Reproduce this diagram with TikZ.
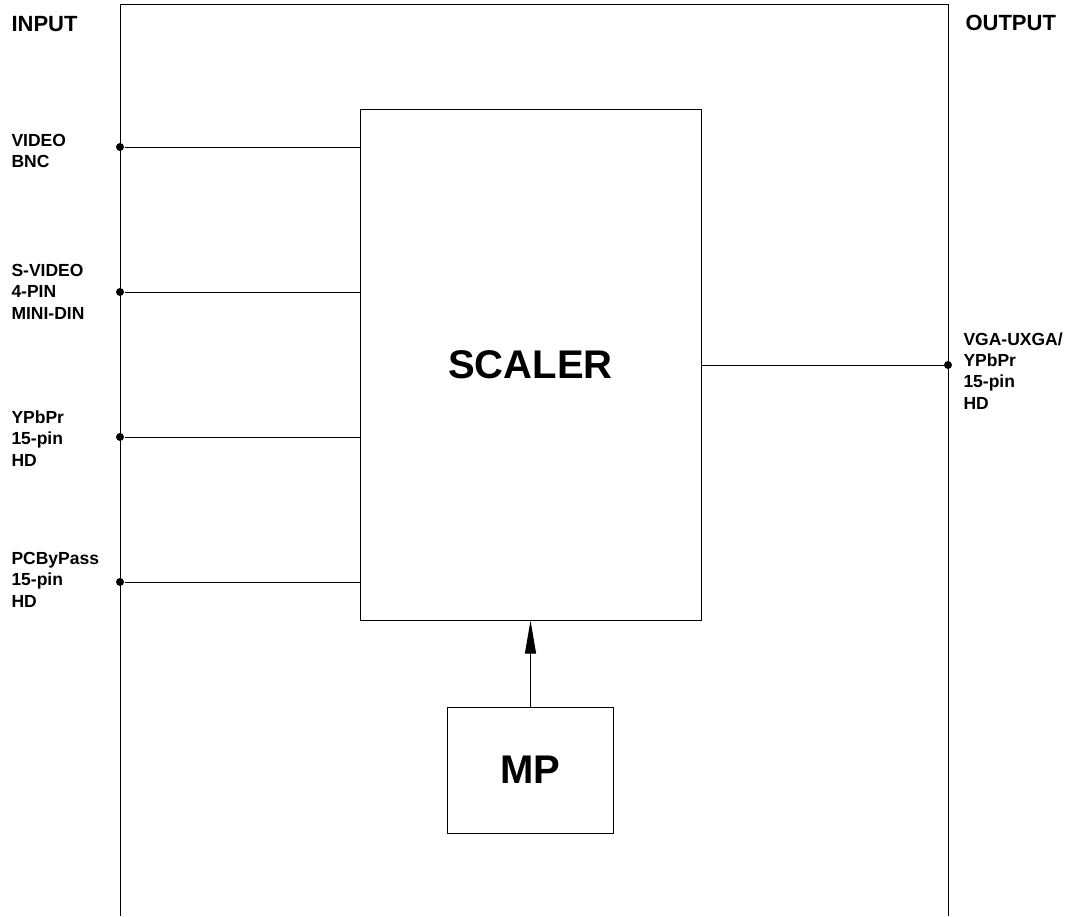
\documentclass[tikz,border=0pt]{standalone}
\usepackage{fontspec}
\setmainfont{Liberation Sans}
\usetikzlibrary{arrows.meta}
\begin{document}
\begin{tikzpicture}[x=1bp,y=-1bp, line width=1bp,
  lbl/.style={anchor=base west, inner sep=0pt, align=left, font=\bfseries\fontsize{17.5bp}{21.3bp}\selectfont},
  hdr/.style={anchor=base west, inner sep=0pt, font=\bfseries\fontsize{22bp}{26bp}\selectfont},
  blk/.style={draw, inner sep=0pt, font=\bfseries\fontsize{40bp}{48bp}\selectfont},
  jdot/.style={circle, fill, inner sep=0pt, minimum size=8bp},
]
\useasboundingbox (0,0) rectangle (1075,917);
% frame
\coordinate (fbl) at (120,916);
\coordinate (ftl) at (120,4);
\coordinate (ftr) at (948,4);
\coordinate (fbr) at (948,916);
\draw (fbl) -- (ftl) -- (ftr) -- (fbr);
% blocks
\node[blk, minimum width=341bp, minimum height=510bp] (scaler) at (530.5,365) {SCALER};
\node[blk, minimum width=166bp, minimum height=126bp] (mp) at (530.5,770) {MP};
\draw[-{Triangle[length=33bp,width=11bp]}] (mp.north) -- (scaler.south);
% inputs
\node[jdot] (in1) at (120,147) {};
\node[jdot] (in2) at (120,292) {};
\node[jdot] (in3) at (120,437) {};
\node[jdot] (in4) at (120,582) {};
\foreach \i in {1,2,3,4} \draw (in\i) -- (scaler.west |- in\i);
% output
\node[jdot] (out) at (948,365) {};
\draw (scaler.east) -- (out);
% labels (base = last line)
\node[hdr] (tin) at (11,31) {INPUT};
\node[hdr] (tout) at (965,30) {OUTPUT};
\node[lbl] (l1) at (11,167.5) {VIDEO\\BNC};
\node[lbl] (l2) at (11,319) {S-VIDEO\\4-PIN\\MINI-DIN};
\node[lbl] (l3) at (11,466) {YPbPr\\15-pin\\HD};
\node[lbl] (l4) at (11,607) {PCByPass\\15-pin\\HD};
\node[lbl] (l5) at (963,409) {VGA-UXGA/\\YPbPr\\15-pin\\HD};
\end{tikzpicture}
\end{document}
